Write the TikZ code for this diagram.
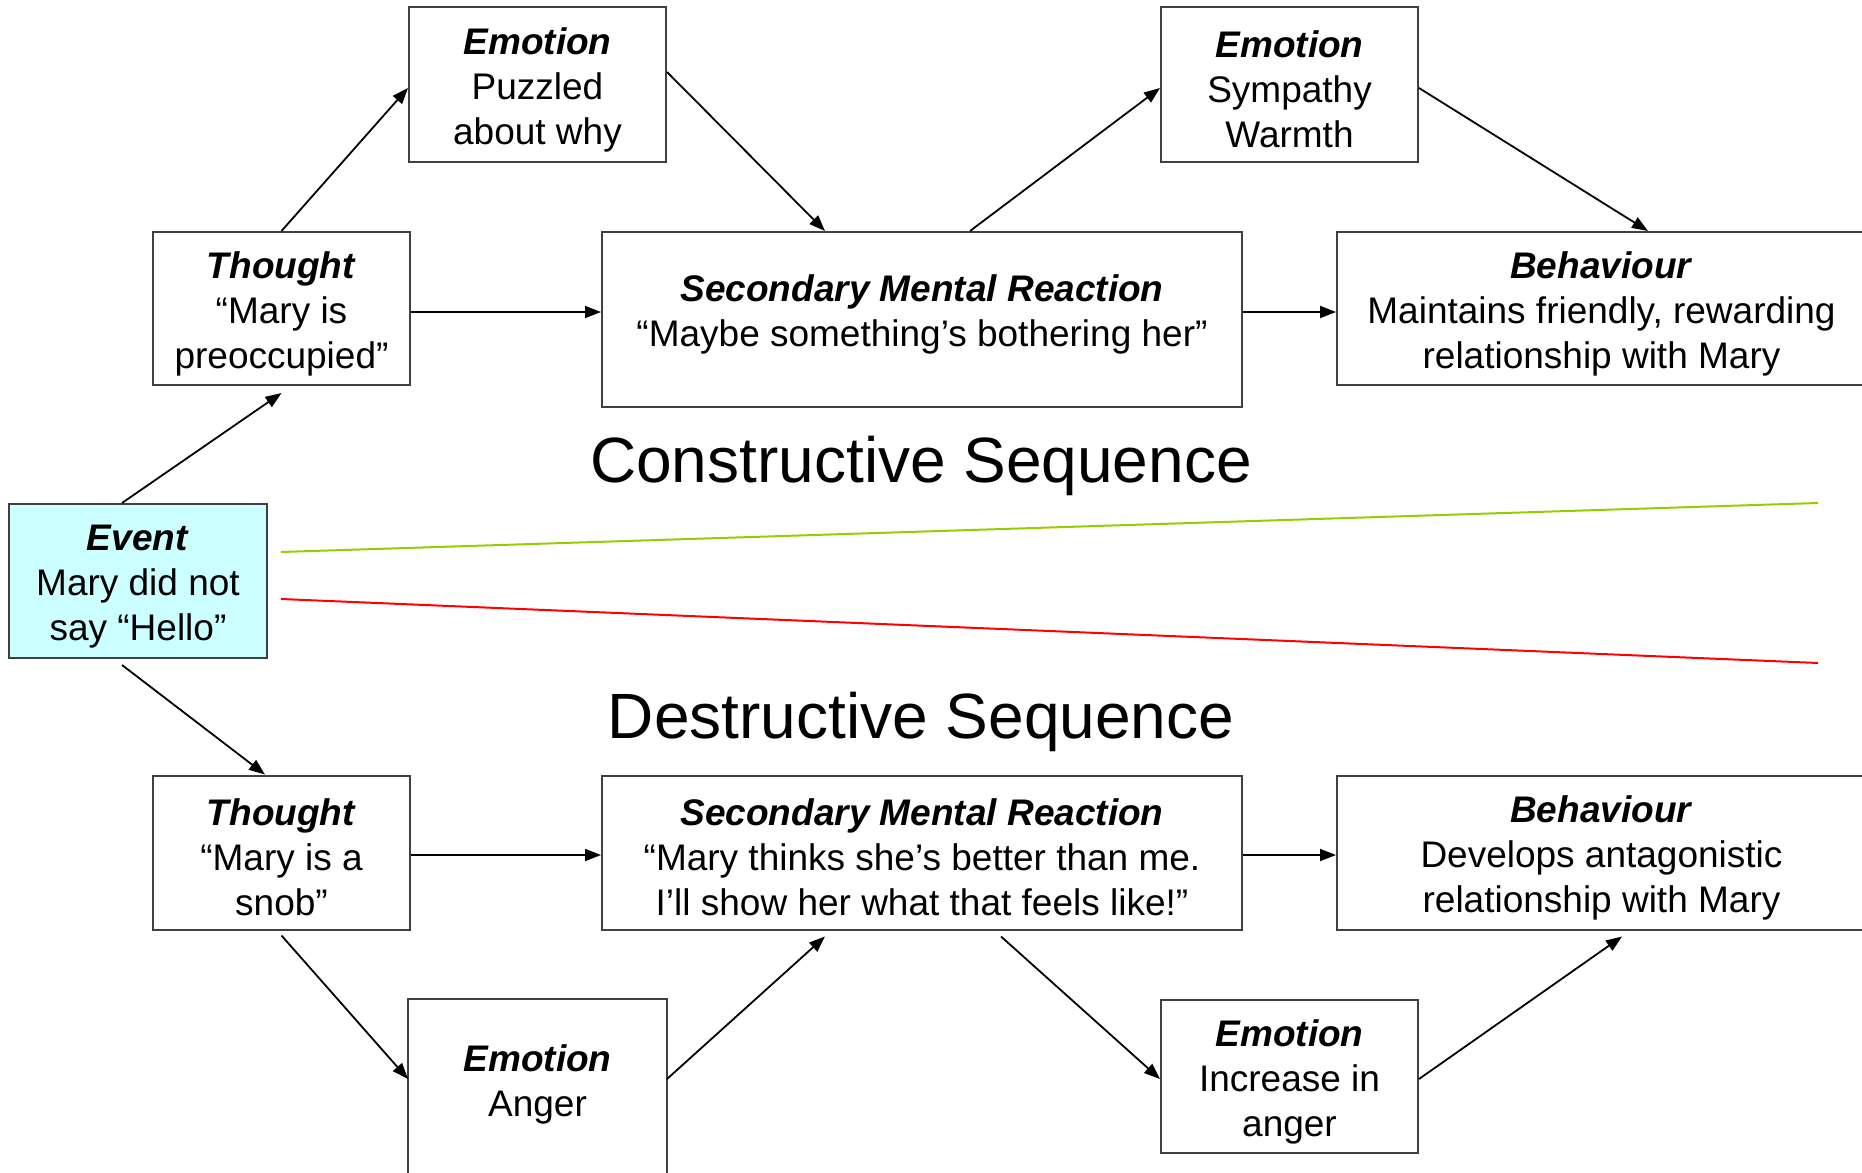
\documentclass[tikz,border=0pt]{standalone}
\usepackage{fontspec}
\setmainfont{Liberation Sans}
\usetikzlibrary{arrows.meta,calc}
\definecolor{boxgrey}{HTML}{404040}
\definecolor{evfill}{HTML}{CCFFFF}
\definecolor{seqgreen}{HTML}{99CC00}
\definecolor{seqred}{HTML}{FF0000}
\tikzset{
  stagebox/.style={draw=boxgrey, line width=2pt, align=center, inner sep=0pt,
    minimum width=257pt, minimum height=154pt,
    font=\fontsize{37}{45}\selectfont},
  widebox/.style={stagebox, minimum width=640pt},
  behbox/.style={stagebox, minimum width=529pt},
  conn/.style={line width=1.8pt, black, -{Triangle[length=16pt,width=12pt]}},
  seqtitle/.style={font=\fontsize{64}{72}\selectfont, anchor=base},
  seqline/.style={line width=2pt},
}
% heading line; the invisible rule lowers the text block slightly in its box
\newcommand{\hd}[1]{\rule{0pt}{37pt}\textbf{\textit{#1}}}
\newcommand{\hdplain}[1]{\textbf{\textit{#1}}}
\begin{document}
\begin{tikzpicture}[x=1pt,y=-1pt]
\useasboundingbox (0,0) rectangle (1862,1172);
\clip (0,0) rectangle (1862,1172);

% top row
\node[stagebox] (e1) at (537.5,84.5) {\hd{Emotion}\\Puzzled\\about why};
\node[stagebox] (e2) at (1289.5,84.5) {\hd{Emotion}\\Sympathy\\Warmth};
\node[stagebox, minimum height=153pt] (t1) at (281.5,308.5) {\hd{Thought}\\“Mary is\\preoccupied”};
\node[widebox, minimum height=175pt] (smr1) at (922,319.5) {\hdplain{Secondary Mental Reaction}\\“Maybe something’s bothering her”\rule[-18pt]{0pt}{1pt}};
\node[behbox, minimum height=153pt] (b1) at (1601.5,308.5) {\hd{Behaviour}\\Maintains friendly, rewarding\\relationship with Mary};

% event
\node[stagebox, fill=evfill, minimum width=258pt] (ev) at (138,581) {\hd{Event}\\Mary did not\\say “Hello”};

% titles
\node[seqtitle] (ctitle) at (921,482) {Constructive Sequence};
\node[seqtitle] (dtitle) at (921,738) {Destructive Sequence};

% sequence lines
\coordinate (gA) at (281,552);
\coordinate (gB) at (1818,503);
\coordinate (rA) at (281,599);
\coordinate (rB) at (1818,663);
\draw[seqline, seqgreen] (gA) -- (gB);
\draw[seqline, seqred] (rA) -- (rB);

% bottom rows
\node[stagebox] (t2) at (281.5,852.5) {\hd{Thought}\\“Mary is a\\snob”};
\node[widebox] (smr2) at (922,852.5) {\hd{Secondary Mental Reaction}\\“Mary thinks she’s better than me.\\I’ll show her what that feels like!”};
\node[behbox] (b2) at (1601.5,852.5) {\hd{Behaviour}\\Develops antagonistic\\relationship with Mary};
\node[stagebox, draw=none, minimum height=158pt] (anger) at (537.5,1079) {\hd{Emotion}\\Anger};
\draw[draw=boxgrey, line width=2pt] ([yshift=-200pt]anger.north west) -- (anger.north west) -- (anger.north east) -- ([yshift=-200pt]anger.north east);
\node[stagebox, minimum height=153pt] (inc) at (1289.5,1076.5) {\hd{Emotion}\\Increase in\\anger};

% constructive connectors
\draw[conn] ([xshift=-16pt]ev.north) -- ([yshift=-7pt]t1.south);
\draw[conn] (t1.north) -- ([yshift=-3.5pt]e1.west);
\draw[conn] ([yshift=12.5pt]e1.east) -- ([xshift=-97pt]smr1.north);
\draw[conn] ([yshift=-3.5pt]t1.east) -- ([yshift=-3.5pt]t1.east -| smr1.west);
\draw[conn] ([xshift=48pt]smr1.north) -- ([yshift=-3.5pt]e2.west);
\draw[conn] ([yshift=-3.5pt]e2.east) -- ([xshift=46.5pt]b1.north);
\draw[conn] ([yshift=-3.5pt]b1.west -| smr1.east) -- ([yshift=-3.5pt]b1.west);

% destructive connectors
\draw[conn] ([xshift=-16pt,yshift=-6pt]ev.south) -- ([xshift=-16.5pt]t2.north);
\draw[conn] ([yshift=-2.5pt]t2.east) -- ([yshift=-2.5pt]t2.east -| smr2.west);
\draw[conn] ([yshift=-2.5pt]smr2.east) -- ([yshift=-2.5pt]smr2.east -| b2.west);
\draw[conn] ([yshift=-5pt]t2.south) -- (anger.west);
\draw[conn] (anger.east) -- ([xshift=-97pt,yshift=-6pt]smr2.south);
\draw[conn] ([xshift=79pt,yshift=-6pt]smr2.south) -- ([yshift=-2.5pt]inc.west);
\draw[conn] ([yshift=-2.5pt]inc.east) -- ([xshift=20.5pt,yshift=-6pt]b2.south);
\end{tikzpicture}
\end{document}
